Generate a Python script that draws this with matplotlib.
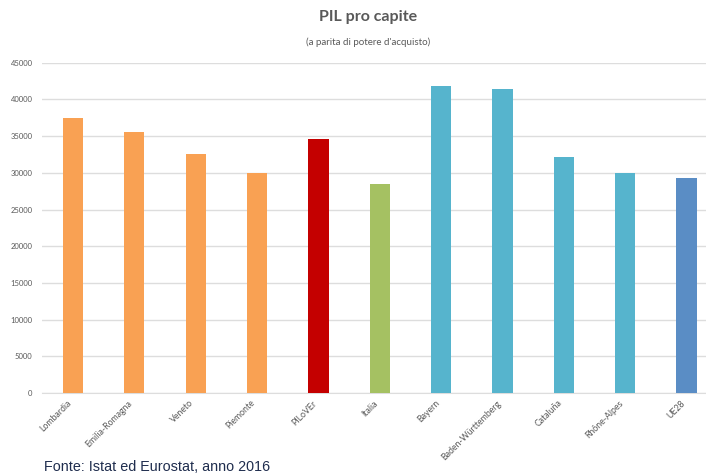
import matplotlib
matplotlib.use("Agg")
import matplotlib.pyplot as plt
from matplotlib.ticker import FixedLocator

categories = ["Lombardia", "Emilia-Romagna", "Veneto", "Piemonte", "PILoVEr", "Italia",
              "Bayern", "Baden-Württemberg", "Cataluña", "Rhône-Alpes", "UE28"]
values = [37500, 35500, 32500, 30000, 34600, 28500, 41800, 41400, 32100, 30000, 29300]
colors = ["#F9A153", "#F9A153", "#F9A153", "#F9A153", "#C40000", "#A5C162",
          "#56B4CD", "#56B4CD", "#56B4CD", "#56B4CD", "#5A8DC5"]
yticks = [0, 5000, 10000, 15000, 20000, 25000, 30000, 35000, 40000, 45000]

plt.rcParams['font.family'] = ['Lato', 'DejaVu Sans']

fig = plt.figure(figsize=(7.06, 4.74), dpi=100)
ax = fig.add_axes([0.0599, 0.1709, 0.956, 0.6968])

x = list(range(len(categories)))
ax.bar(x, values, width=0.33, color=colors, zorder=3)

ax.set_xlim(-0.5, len(categories) - 0.5)
ax.set_ylim(0, 45000)
ax.yaxis.set_major_locator(FixedLocator(yticks))
ax.set_yticklabels([str(v) for v in yticks], fontsize=5.5, color="#595959")
ax.grid(axis='y', color="#DDDDDD", linewidth=1.0, zorder=0)
ax.set_xticks(x)
ax.set_xticklabels(categories, rotation=45, ha='right', va='top',
                   fontsize=6.3, color="#595959")
ax.tick_params(axis='both', length=0)
ax.tick_params(axis='y', pad=7)
ax.tick_params(axis='x', pad=4)
for s in ['top', 'right', 'left']:
    ax.spines[s].set_visible(False)
ax.spines['bottom'].set_color("#DDDDDD")

fig.text(0.521, 1 - 17 / 474, "PIL pro capite", ha='center', va='center',
         fontsize=11.5, fontweight='bold', color="#595959")
fig.text(0.521, 1 - 42 / 474, "(a parita di potere d'acquisto)", ha='center', va='center',
         fontsize=7, color="#595959")
fig.text(44 / 706, 1 - 467 / 474, "Fonte: Istat ed Eurostat, anno 2016", ha='left', va='center',
         fontsize=10.4, color="#1F2D4E", family=['Liberation Sans', 'DejaVu Sans'])

fig.savefig("out.png", dpi=100)
